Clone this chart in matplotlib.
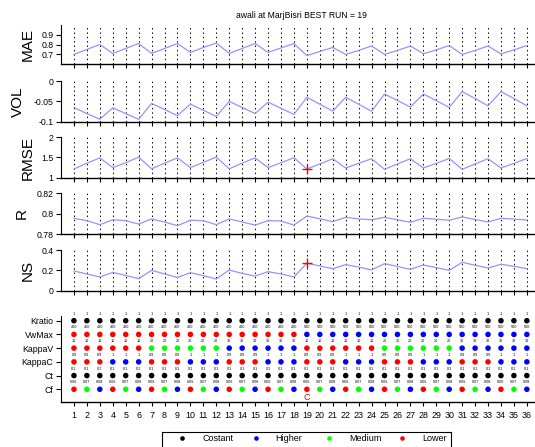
import matplotlib
matplotlib.use("Agg")
import matplotlib.pyplot as plt

plt.rcParams["font.family"] = ["Liberation Sans", "DejaVu Sans"]

TITLE = "awali at MarjBisri BEST RUN = 19"
BEST_RUN = 19
runs = list(range(1, 37))

# performance per run
mae = [0.70, 0.75, 0.80, 0.71, 0.76, 0.81, 0.71, 0.76, 0.81, 0.72, 0.77, 0.815,
       0.71, 0.76, 0.81, 0.72, 0.765, 0.81, 0.687, 0.73, 0.77, 0.70, 0.74, 0.785,
       0.70, 0.74, 0.785, 0.707, 0.745, 0.79, 0.70, 0.74, 0.785, 0.705, 0.745, 0.79]
vol = [-0.065, -0.08, -0.094, -0.066, -0.08, -0.094, -0.055, -0.07, -0.085,
       -0.057, -0.072, -0.087, -0.05, -0.065, -0.08, -0.052, -0.067, -0.082,
       -0.04, -0.057, -0.074, -0.04, -0.057, -0.074, -0.032, -0.048, -0.064,
       -0.032, -0.048, -0.065, -0.026, -0.043, -0.061, -0.026, -0.043, -0.061]
rmse = [1.215, 1.36, 1.49, 1.25, 1.37, 1.51, 1.22, 1.36, 1.49, 1.25, 1.38, 1.51,
        1.22, 1.36, 1.49, 1.25, 1.37, 1.495, 1.215, 1.34, 1.47, 1.24, 1.355, 1.47,
        1.21, 1.34, 1.47, 1.24, 1.355, 1.475, 1.21, 1.34, 1.47, 1.24, 1.355, 1.475]
r_corr = [0.7956, 0.7933, 0.7894, 0.7942, 0.7933, 0.7900, 0.7950, 0.7920, 0.7884,
          0.7937, 0.7933, 0.7894, 0.7950, 0.7920, 0.7890, 0.7933, 0.7930, 0.7890,
          0.7978, 0.7952, 0.7923, 0.7966, 0.7950, 0.7942, 0.7966, 0.7942, 0.7917,
          0.7956, 0.7947, 0.7937, 0.7969, 0.7945, 0.7920, 0.7956, 0.7948, 0.7940]
ns = [0.194, 0.164, 0.135, 0.18, 0.15, 0.118, 0.2, 0.165, 0.13, 0.177, 0.148, 0.115,
      0.203, 0.17, 0.144, 0.187, 0.164, 0.135, 0.27, 0.243, 0.216, 0.256, 0.232, 0.204,
      0.266, 0.238, 0.21, 0.253, 0.227, 0.2, 0.279, 0.25, 0.223, 0.26, 0.24, 0.216]

# parameter design per run
kratio = [1, 1, 1, 1, 1, 1, 1, 1, 1, 1, 1, 1, 1, 1, 1, 1, 1, 1,
          1, 1, 1, 1, 1, 1, 1, 1, 1, 1, 1, 1, 1, 1, 1, 1, 1, 1]
vwmax = [400, 400, 400, 400, 400, 400, 400, 400, 400, 400, 400, 400,
         400, 400, 400, 400, 400, 400, 500, 500, 500, 500, 500, 500,
         500, 500, 500, 500, 500, 500, 500, 500, 500, 500, 500, 500]
kappa_v = [10, 10, 10, 10, 10, 10, 20, 20, 20, 20, 20, 20, 30, 30, 30, 30, 30, 30,
           10, 10, 10, 10, 10, 10, 20, 20, 20, 20, 20, 20, 30, 30, 30, 30, 30, 30]
kappa_c = [0.9, 0.9, 0.9, 1, 1, 1, 0.9, 0.9, 0.9, 1, 1, 1, 0.9, 0.9, 0.9, 1, 1, 1,
           0.9, 0.9, 0.9, 1, 1, 1, 0.9, 0.9, 0.9, 1, 1, 1, 0.9, 0.9, 0.9, 1, 1, 1]
ct = [0.1, 0.1, 0.1, 0.1, 0.1, 0.1, 0.1, 0.1, 0.1, 0.1, 0.1, 0.1,
      0.1, 0.1, 0.1, 0.1, 0.1, 0.1, 0.1, 0.1, 0.1, 0.1, 0.1, 0.1,
      0.1, 0.1, 0.1, 0.1, 0.1, 0.1, 0.1, 0.1, 0.1, 0.1, 0.1, 0.1]
cf = [0.06, 0.07, 0.08, 0.06, 0.07, 0.08, 0.06, 0.07, 0.08, 0.06, 0.07, 0.08,
      0.06, 0.07, 0.08, 0.06, 0.07, 0.08, 0.06, 0.07, 0.08, 0.06, 0.07, 0.08,
      0.06, 0.07, 0.08, 0.06, 0.07, 0.08, 0.06, 0.07, 0.08, 0.06, 0.07, 0.08]
param_names = ["Kratio", "VwMax", "KappaV", "KappaC", "Ct", "Cf"]
param_values = [kratio, vwmax, kappa_v, kappa_c, ct, cf]

legend_labels = ["Costant", "Higher", "Medium", "Lower"]
legend_colors = ["black", "#0000ff", "#00ff00", "#ff0000"]

W, H = 535, 447
LEFT = 61
XMAX = 36.63


def box(top, bottom, left=LEFT, right=W):
    return [left / W, 1 - bottom / H, (right - left) / W, (bottom - top) / H]


def level_color(value, values):
    levels = sorted(set(values))
    if len(levels) == 1:
        return legend_colors[0]
    if value == levels[-1]:
        return legend_colors[1]
    if value == levels[0]:
        return legend_colors[3]
    return legend_colors[2]


fig = plt.figure(figsize=(W / 100, H / 100), dpi=100, facecolor="white")

panels = [
    ("MAE", mae, (0.6, 1.0), [0.7, 0.8, 0.9], ["0.7", "0.8", "0.9"], 24.7, 64.3, 27.5, False),
    ("VOL", vol, (-0.1, 0.0), [-0.1, -0.05, 0], ["-0.1", "-0.05", "0"], 81, 121.7, 17.5, False),
    ("RMSE", rmse, (1, 2), [1, 1.5, 2], ["1", "1.5", "2"], 137.3, 177.7, 27.5, True),
    ("R", r_corr, (0.78, 0.82), [0.78, 0.8, 0.82], ["0.78", "0.8", "0.82"], 193.3, 234.3, 21.7, False),
    ("NS", ns, (0, 0.4), [0, 0.2, 0.4], ["0", "0.2", "0.4"], 250, 290.7, 27.5, True),
]

for name, values, ylim, yticks, ylabels, top, bottom, label_x, cross in panels:
    ax = fig.add_axes(box(top, bottom))
    ax.set_xlim(0, XMAX)
    ax.set_ylim(*ylim)
    ax.vlines(runs, ylim[0], ylim[1], colors="black", linestyles=(0, (1.5, 3)),
              lw=0.7, zorder=1)
    ax.plot(runs, values, color="#9494ff", lw=0.9, zorder=2)
    if cross:
        ax.plot(BEST_RUN, values[BEST_RUN - 1], marker="+", color="#ff0000", ms=6.5,
                mew=1.0, zorder=3)
    for side in ("top", "right"):
        ax.spines[side].set_visible(False)
    ax.spines["left"].set_linewidth(0.8)
    ax.spines["bottom"].set_linewidth(1.0)
    ax.set_xticks(runs)
    ax.tick_params(axis="x", labelbottom=False, length=3, width=0.8)
    ax.set_yticks(yticks, ylabels)
    ax.tick_params(axis="y", length=3.5, width=0.8, labelsize=6.3, pad=2)
    fig.text(label_x / W, 1 - (top + bottom) / 2 / H, name, rotation=90,
             ha="center", va="center", fontsize=11)

# design panel
ax = fig.add_axes(box(315.7, 401.7))
ax.set_xlim(0, XMAX)
ax.set_ylim(0.095, 6.365)
n_rows = len(param_names)
for i, values in enumerate(param_values):
    y = n_rows - i
    colors = [level_color(v, values) for v in values]
    ax.scatter(runs, [y] * len(runs), s=16, c=colors, linewidths=0, zorder=3)
    for run, v in zip(runs, values):
        ax.text(run, y + 0.51, f"{v:g}", ha="center", va="center", fontsize=2.7)
ax.text(BEST_RUN, 0.39, "C", color="red", fontsize=6.7, ha="center", va="center")
for side in ("top", "right"):
    ax.spines[side].set_visible(False)
ax.spines["left"].set_linewidth(0.8)
ax.spines["bottom"].set_linewidth(1.0)
ax.set_xticks(runs, [str(r) for r in runs])
ax.tick_params(axis="x", length=3, width=0.8, labelsize=6.4, pad=4)
ax.set_yticks(list(range(n_rows, 0, -1)), param_names)
ax.tick_params(axis="y", length=3.5, width=0.8, labelsize=6.3, pad=2)

fig.text(301 / W, 1 - 15 / H, TITLE, ha="center", va="center", fontsize=6.2)

# legend box, cut by the bottom edge as in the original
leg_left, leg_right, leg_top = 161.7, 450.7, 432.3
leg = fig.add_axes([leg_left / W, 0, (leg_right - leg_left) / W, (H - leg_top) / H])
leg.set_xlim(0, leg_right - leg_left)
leg.set_ylim(H - leg_top, 0)
leg.set_xticks([])
leg.set_yticks([])
leg.spines["bottom"].set_visible(False)
for side in ("left", "top", "right"):
    leg.spines[side].set_linewidth(0.8)
for i, (label, color) in enumerate(zip(legend_labels, legend_colors)):
    x = 20.6 + i * 73.3
    leg.scatter([x], [6], s=11, c=color, linewidths=0, clip_on=False)
    leg.text(x + 20, 6, label, ha="left", va="center", fontsize=6.5)

fig.savefig("out.png", dpi=100, facecolor="white")
